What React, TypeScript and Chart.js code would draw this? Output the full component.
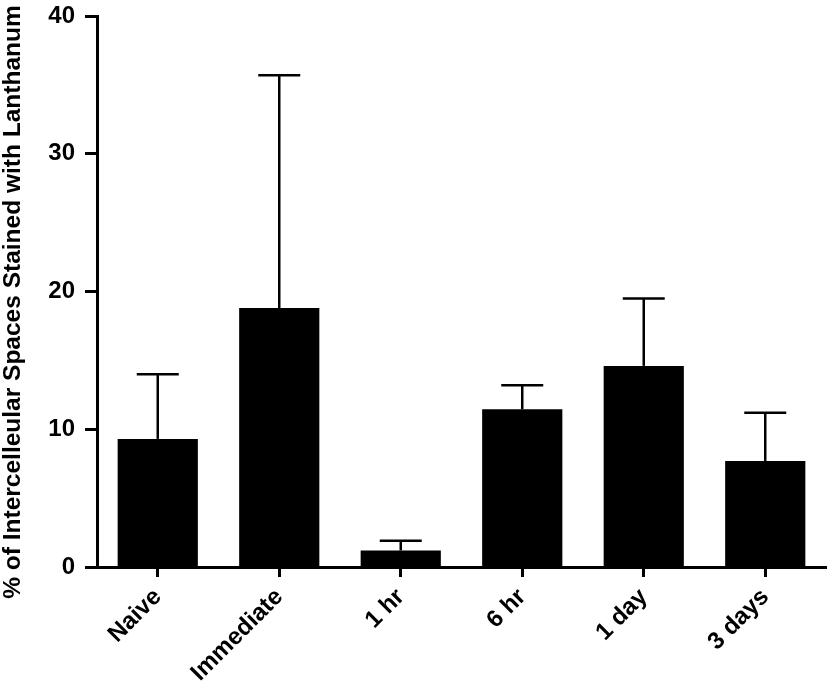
import React, { useEffect, useRef } from "react";
import { Chart, registerables } from "chart.js";

Chart.register(...registerables);

const categories = ["Naive", "Immediate", "1 hr", "6 hr", "1 day", "3 days"];
const meanValues = [9.3, 18.8, 1.2, 11.45, 14.6, 7.7];
const errorValues = [4.7, 16.9, 0.7, 1.75, 4.9, 3.5];
const yTicks = [0, 10, 20, 30, 40];
const yTitle = "% of Intercelleular Spaces Stained with Lanthanum";

const FONT = "'Liberation Sans', Arial, Helvetica, sans-serif";

const errorBarPlugin = {
  id: "errorBars",
  afterDatasetsDraw(chart: any) {
    const ctx = chart.ctx;
    const meta = chart.getDatasetMeta(0);
    const yScale = chart.scales.y;
    ctx.save();
    ctx.strokeStyle = "#000";
    ctx.lineWidth = 2.5;
    meta.data.forEach((bar: any, i: number) => {
      const x = bar.x;
      const yBase = yScale.getPixelForValue(meanValues[i]);
      const yTop = yScale.getPixelForValue(meanValues[i] + errorValues[i]);
      ctx.beginPath();
      ctx.moveTo(x, yBase);
      ctx.lineTo(x, yTop);
      ctx.stroke();
      ctx.beginPath();
      ctx.moveTo(x - 21, yTop);
      ctx.lineTo(x + 21, yTop);
      ctx.stroke();
    });
    ctx.restore();
  },
};

const yTitlePlugin = {
  id: "yTitle",
  afterDraw(chart: any) {
    const ctx = chart.ctx;
    ctx.save();
    ctx.fillStyle = "#000";
    ctx.font = `bold 24.5px ${FONT}`;
    ctx.textAlign = "center";
    ctx.textBaseline = "middle";
    ctx.translate(13, 302);
    ctx.rotate(-Math.PI / 2);
    ctx.fillText(yTitle, 0, 0);
    ctx.restore();
  },
};

export default function App() {
  const ref = useRef<HTMLCanvasElement | null>(null);
  useEffect(() => {
    if (!ref.current) return;
    const chart = new Chart(ref.current, {
      type: "bar",
      data: {
        labels: categories,
        datasets: [
          {
            data: meanValues,
            backgroundColor: "#000",
            borderWidth: 0,
            barPercentage: 0.66,
            categoryPercentage: 1,
          },
        ],
      },
      options: {
        animation: false,
        responsive: false,
        maintainAspectRatio: false,
        layout: { padding: { top: 16, right: 3, left: 0, bottom: 0 } },
        plugins: { legend: { display: false }, tooltip: { enabled: false } },
        scales: {
          x: {
            offset: true,
            grid: {
              drawOnChartArea: false,
              drawTicks: true,
              tickLength: 10,
              tickWidth: 3,
              tickColor: "#000",
              offset: false,
            },
            border: { display: true, color: "#000", width: 3 },
            ticks: {
              color: "#000",
              font: { family: FONT, size: 24, weight: "bold" },
              maxRotation: 45,
              minRotation: 45,
              padding: 6,
            },
            afterFit(scale: any) {
              scale.height = 693 - 567;
            },
          },
          y: {
            min: 0,
            max: 40,
            afterBuildTicks(scale: any) {
              scale.ticks = yTicks.map((v) => ({ value: v }));
            },
            grid: {
              drawOnChartArea: false,
              drawTicks: true,
              tickLength: 12,
              tickWidth: 3,
              tickColor: "#000",
            },
            border: { display: true, color: "#000", width: 3 },
            ticks: {
              color: "#000",
              font: { family: FONT, size: 24, weight: "bold" },
              padding: 10,
            },
            afterFit(scale: any) {
              scale.width = 97;
              scale.paddingTop = 0;
              scale.paddingBottom = 0;
            },
          },
        },
      },
      plugins: [errorBarPlugin, yTitlePlugin],
    });
    return () => chart.destroy();
  }, []);
  return (
    <div style={{ position: "absolute", left: 0, top: 0, width: 829, height: 693, background: "#fff" }}>
      <canvas ref={ref} width={829} height={693} style={{ width: 829, height: 693, display: "block" }} />
    </div>
  );
}
